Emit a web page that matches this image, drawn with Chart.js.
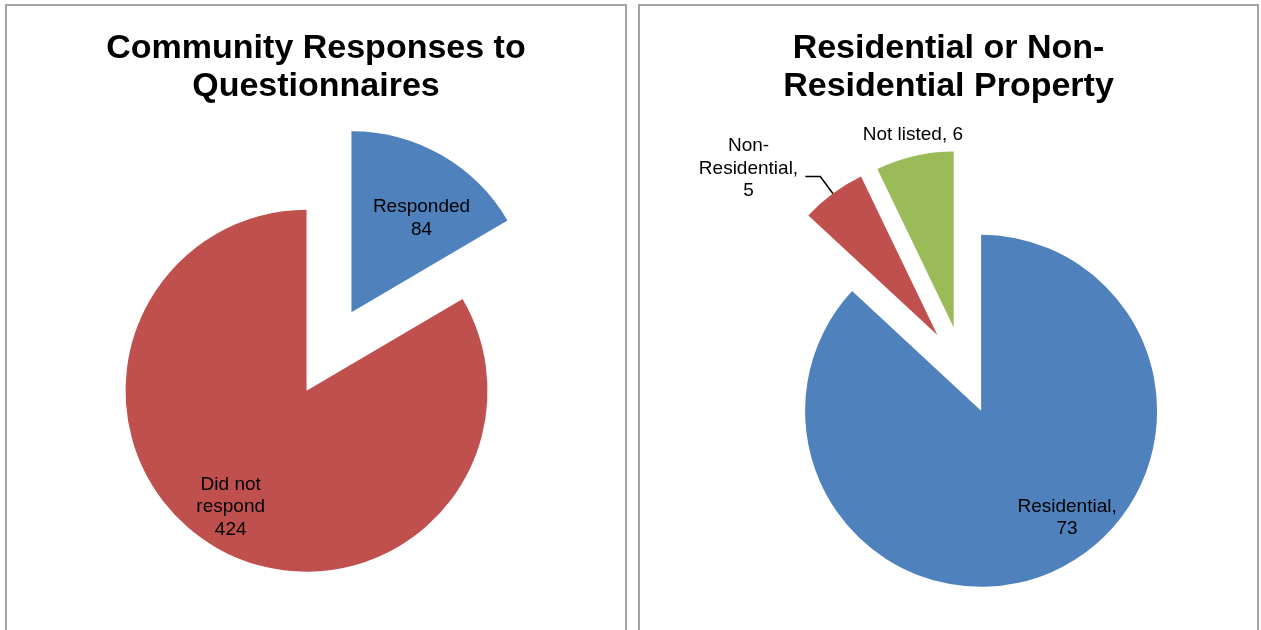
<!DOCTYPE html>
<html>
<head>
<meta charset="utf-8">
<title>Questionários</title>
<script src="https://cdn.jsdelivr.net/npm/chart.js@4.4.1/dist/chart.umd.min.js"></script>
<style>
    body { margin: 0; background: #fff; font-family: "Liberation Sans", Arial, sans-serif; }
    .painel { position: absolute; top: 4px; height: 640px; border: 2px solid #a3a3a3; background: #fff; }
    #painelRespostas { left: 5px; width: 618px; }
    #painelImoveis { left: 638px; width: 617px; }
    .titulo { position: absolute; left: 0; right: 0; top: 21px; text-align: center;
              font-weight: bold; font-size: 34px; line-height: 38px; color: #000; }
    canvas { position: absolute; left: 0; top: 0; }
</style>
</head>
<body>

<div class="painel" id="painelRespostas">
    <canvas id="graficoRespostas" width="618" height="624"></canvas>
    <div class="titulo">Community Responses to<br>Questionnaires</div>
</div>

<div class="painel" id="painelImoveis">
    <canvas id="graficoImoveis" width="617" height="624"></canvas>
    <div class="titulo">Residential or Non-<br>Residential Property</div>
</div>

<script>
// dados das respostas
const respostasCategorias = ['Responded', 'Did not respond'];
const respostasValores = [84, 424];
// texto dos rótulos já quebrado em linhas
const respostasRotulos = [['Responded'], ['Did not', 'respond']];

// dados dos imóveis
const imoveisCategorias = ['Residential', 'Non-Residential', 'Not listed'];
const imoveisValores = [73, 5, 6];
const imoveisRotulos = [['Residential,'], ['Non-', 'Residential,'], ['Not listed,']];
const imoveisValorNaLinha = [false, false, true];

const corAzul = '#4F81BD';
const corVermelho = '#C0504D';
const corVerde = '#9BBB59';

// afasta cada fatia do centro na direção da bissetriz (fração do raio)
const pluginExplosao = {
    id: 'explosao',
    afterDatasetsUpdate(chart, args, opts) {
        const fracao = opts.fracao || 0;
        chart.getDatasetMeta(0).data.forEach(arc => {
            const meio = (arc.startAngle + arc.endAngle) / 2;
            const d = fracao * arc.outerRadius;
            arc.x += Math.cos(meio) * d;
            arc.y += Math.sin(meio) * d;
        });
    }
};

// escreve nome + valor de cada fatia, com linha guia opcional
const pluginRotulos = {
    id: 'rotulos',
    afterDatasetsDraw(chart, args, opts) {
        const ctx = chart.ctx;
        const valores = chart.data.datasets[0].data;
        ctx.save();
        ctx.font = opts.fonte;
        ctx.fillStyle = '#000';
        ctx.strokeStyle = '#000';
        ctx.lineWidth = 1.5;
        ctx.textAlign = 'center';
        ctx.textBaseline = 'middle';
        chart.getDatasetMeta(0).data.forEach((arc, i) => {
            const meio = (arc.startAngle + arc.endAngle) / 2;
            const ang = meio + opts.desvio[i] * Math.PI / 180;
            const r = opts.distancia[i] * arc.outerRadius;
            const cx = arc.x + Math.cos(ang) * r;
            const cy = arc.y + Math.sin(ang) * r;
            const linhas = opts.linhas(i, valores[i]);
            const topo = cy - (linhas.length - 1) * opts.entrelinha / 2;
            linhas.forEach((t, j) => ctx.fillText(t, cx, topo + j * opts.entrelinha));

            if (opts.guia && opts.guia[i]) {
                const g = opts.guia[i];
                const x1 = arc.x + Math.cos(meio) * arc.outerRadius;
                const y1 = arc.y + Math.sin(meio) * arc.outerRadius;
                const x2 = arc.x + Math.cos(meio) * arc.outerRadius * g.alcance;
                const y2 = arc.y + Math.sin(meio) * arc.outerRadius * g.alcance;
                ctx.beginPath();
                ctx.moveTo(x1, y1);
                ctx.lineTo(x2, y2);
                ctx.lineTo(x2 - g.traco, y2);
                ctx.stroke();
            }
        });
        ctx.restore();
    }
};

function opcoesBase(raio, padding, rotulos) {
    return {
        responsive: false,
        animation: false,
        events: [],
        devicePixelRatio: 1,
        layout: { padding: padding },
        plugins: {
            legend: { display: false },
            tooltip: { enabled: false },
            explosao: { fracao: 0.25 },
            rotulos: rotulos
        }
    };
}

function desenharGraficoRespostas() {
    new Chart(document.getElementById('graficoRespostas'), {
        type: 'pie',
        data: {
            labels: respostasCategorias,
            datasets: [{
                data: respostasValores,
                backgroundColor: [corAzul, corVermelho],
                borderWidth: 0,
                radius: 181,
                clip: false
            }]
        },
        options: opcoesBase(181, { left: 26, top: 67, right: 0, bottom: 0 }, {
            fonte: '19px "Liberation Sans", Arial, sans-serif',
            entrelinha: 22.5,
            distancia: [0.648, 0.766],
            desvio: [6.9, 3.4],
            linhas: (i, v) => [...respostasRotulos[i], String(v)]
        }),
        plugins: [pluginExplosao, pluginRotulos]
    });
}

function desenharGraficoImoveis() {
    new Chart(document.getElementById('graficoImoveis'), {
        type: 'pie',
        data: {
            labels: imoveisCategorias,
            datasets: [{
                data: imoveisValores,
                backgroundColor: [corAzul, corVermelho, corVerde],
                borderWidth: 0,
                radius: 176,
                clip: false
            }]
        },
        options: opcoesBase(176, { left: 30, top: 105, right: 0, bottom: 0 }, {
            fonte: '19px "Liberation Sans", Arial, sans-serif',
            entrelinha: 22.5,
            distancia: [0.78, 1.43, 1.12],
            desvio: [-15.2, -12.2, 0.9],
            guia: [null, { alcance: 1.12, traco: 15 }, null],
            linhas: (i, v) => {
                const l = imoveisRotulos[i].slice();
                if (imoveisValorNaLinha[i]) l[l.length - 1] += ' ' + v;
                else l.push(String(v));
                return l;
            }
        }),
        plugins: [pluginExplosao, pluginRotulos]
    });
}

desenharGraficoRespostas();
desenharGraficoImoveis();
</script>
</body>
</html>
